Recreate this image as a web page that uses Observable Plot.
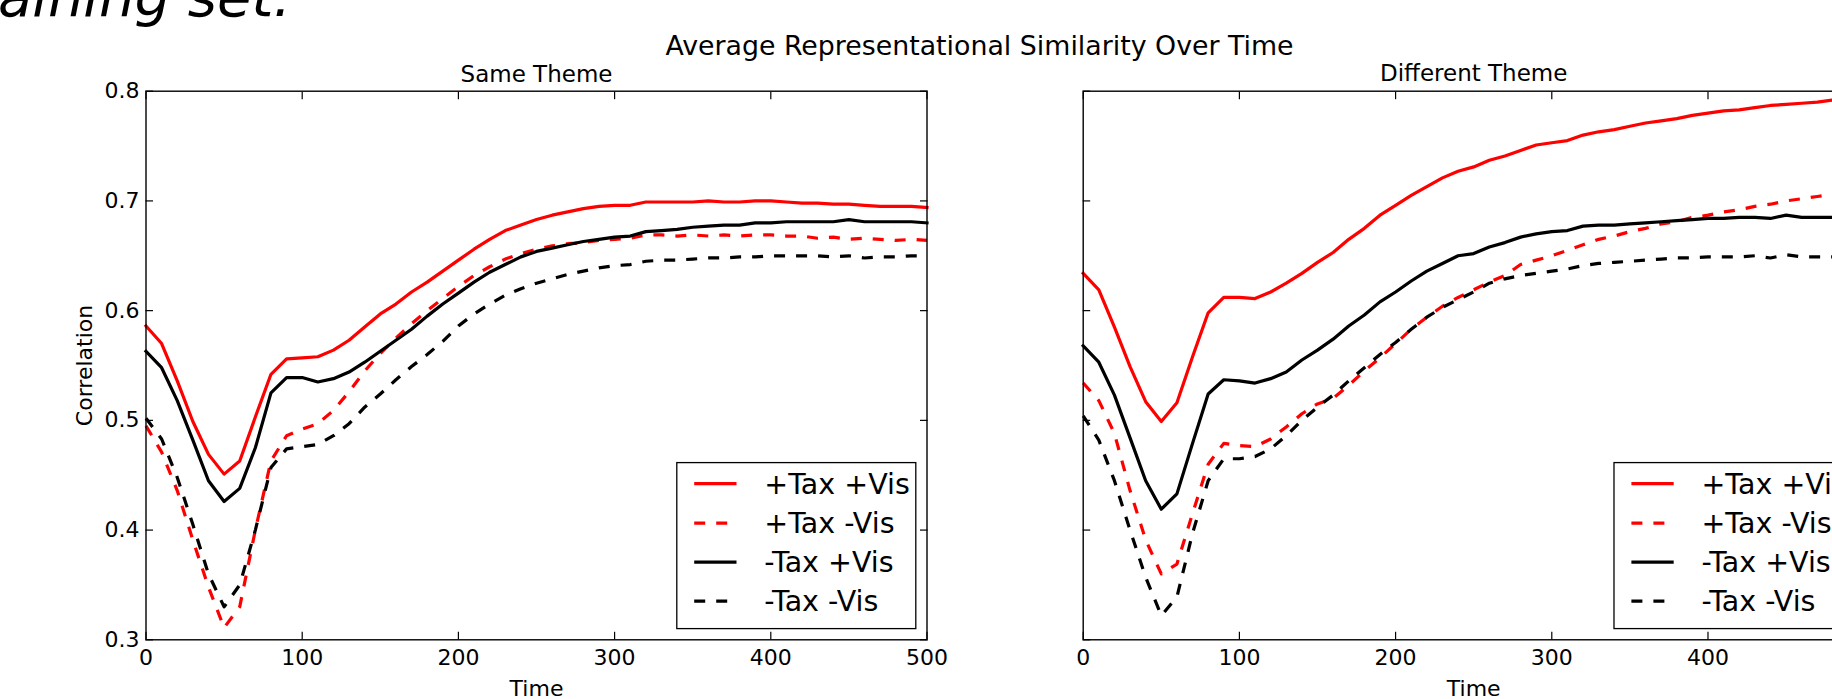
<!DOCTYPE html>
<html>
<head>
<meta charset="utf-8">
<script src="https://cdn.jsdelivr.net/npm/d3@7"></script>
<script src="https://cdn.jsdelivr.net/npm/@observablehq/plot@0.6"></script>
<style>
  html, body { margin: 0; padding: 0; width: 1832px; height: 699px; overflow: hidden; background: #fff; }
  #page { position: relative; width: 1832px; height: 699px; overflow: hidden; font-family: "DejaVu Sans", sans-serif; color: #000; }
  .abs { position: absolute; white-space: nowrap; line-height: 1; }
  #doc { left: -2px; top: -31.5px; font-size: 56px; font-style: italic; }
  #suptitle { left: 0; width: 1959px; text-align: center; top: 33.3px; font-size: 26.8px; }
  .panel { position: absolute; top: 0; }
</style>
</head>
<body>
<div id="page">
  <div id="doc" class="abs"></div>
  <div id="suptitle" class="abs"></div>
  <div id="left" class="panel" style="left:0px"></div>
  <div id="right" class="panel" style="left:1000px"></div>
</div>
<script>
// ---------------- data ----------------
const docText = "aining set.";
const suptitle = "Average Representational Similarity Over Time";
const panelTitles = ["Same Theme", "Different Theme"];
const xLabel = "Time";
const yLabel = "Correlation";
const xTicks = [0, 100, 200, 300, 400, 500];
const yTicks = [0.3, 0.4, 0.5, 0.6, 0.7, 0.8];
const seriesNames = ["+Tax +Vis", "+Tax -Vis", "-Tax +Vis", "-Tax -Vis"];
const seriesColors = ["#ff0000", "#ff0000", "#000000", "#000000"];
const seriesDashed = [false, true, false, true];

const times = [0, 10, 20, 30, 40, 50, 60, 70, 80, 90,
  100, 110, 120, 130, 140, 150, 160, 170, 180, 190,
  200, 210, 220, 230, 240, 250, 260, 270, 280, 290,
  300, 310, 320, 330, 340, 350, 360, 370, 380, 390,
  400, 410, 420, 430, 440, 450, 460, 470, 480, 490, 500];

// Same Theme
const sameTaxVis = [0.586, 0.570, 0.536, 0.499, 0.469, 0.451, 0.463, 0.503, 0.542, 0.556,
  0.557, 0.558, 0.564, 0.573, 0.585, 0.597, 0.606, 0.617, 0.626, 0.636,
  0.646, 0.656, 0.665, 0.673, 0.678, 0.683, 0.687, 0.690, 0.693, 0.695,
  0.696, 0.696, 0.699, 0.699, 0.699, 0.699, 0.700, 0.699, 0.699, 0.700,
  0.700, 0.699, 0.698, 0.698, 0.697, 0.697, 0.696, 0.695, 0.695, 0.695, 0.694];
const sameTaxNoVis = [0.495, 0.471, 0.436, 0.391, 0.348, 0.311, 0.330, 0.400, 0.463, 0.486,
  0.492, 0.497, 0.509, 0.526, 0.545, 0.561, 0.575, 0.588, 0.600, 0.611,
  0.622, 0.632, 0.640, 0.647, 0.652, 0.656, 0.659, 0.661, 0.662, 0.664,
  0.665, 0.666, 0.669, 0.669, 0.668, 0.669, 0.668, 0.669, 0.668, 0.669,
  0.669, 0.668, 0.668, 0.666, 0.667, 0.665, 0.666, 0.665, 0.664, 0.665, 0.664];
const sameNoTaxVis = [0.563, 0.548, 0.518, 0.482, 0.445, 0.426, 0.438, 0.475, 0.525, 0.539,
  0.539, 0.535, 0.538, 0.544, 0.553, 0.563, 0.573, 0.583, 0.595, 0.606,
  0.616, 0.626, 0.635, 0.642, 0.649, 0.654, 0.657, 0.660, 0.663, 0.665,
  0.667, 0.668, 0.672, 0.673, 0.674, 0.676, 0.677, 0.678, 0.678, 0.680,
  0.680, 0.681, 0.681, 0.681, 0.681, 0.683, 0.681, 0.681, 0.681, 0.681, 0.680];
const sameNoTaxNoVis = [0.502, 0.483, 0.448, 0.405, 0.360, 0.330, 0.350, 0.400, 0.457, 0.474,
  0.476, 0.478, 0.486, 0.497, 0.512, 0.524, 0.537, 0.549, 0.560, 0.572,
  0.586, 0.597, 0.606, 0.614, 0.620, 0.625, 0.629, 0.633, 0.636, 0.639,
  0.641, 0.642, 0.645, 0.646, 0.646, 0.647, 0.648, 0.648, 0.649, 0.649,
  0.650, 0.650, 0.650, 0.650, 0.649, 0.650, 0.648, 0.649, 0.649, 0.650, 0.650];

// Different Theme
const diffTaxVis = [0.634, 0.619, 0.585, 0.549, 0.517, 0.499, 0.516, 0.558, 0.598, 0.612,
  0.612, 0.611, 0.617, 0.625, 0.634, 0.644, 0.653, 0.665, 0.675, 0.687,
  0.696, 0.705, 0.713, 0.721, 0.727, 0.731, 0.737, 0.741, 0.746, 0.751,
  0.753, 0.755, 0.760, 0.763, 0.765, 0.768, 0.771, 0.773, 0.775, 0.778,
  0.780, 0.782, 0.783, 0.785, 0.787, 0.788, 0.789, 0.790, 0.792, 0.793, 0.794];
const diffTaxNoVis = [0.534, 0.518, 0.488, 0.436, 0.391, 0.360, 0.369, 0.415, 0.460, 0.479,
  0.477, 0.476, 0.483, 0.494, 0.506, 0.515, 0.520, 0.532, 0.545, 0.557,
  0.570, 0.583, 0.594, 0.604, 0.612, 0.619, 0.626, 0.632, 0.642, 0.646,
  0.650, 0.655, 0.660, 0.665, 0.668, 0.672, 0.675, 0.679, 0.681, 0.685,
  0.687, 0.690, 0.692, 0.695, 0.697, 0.700, 0.702, 0.704, 0.706, 0.708, 0.710];
const diffNoTaxVis = [0.568, 0.553, 0.523, 0.484, 0.445, 0.419, 0.433, 0.479, 0.524, 0.537,
  0.536, 0.534, 0.538, 0.544, 0.555, 0.564, 0.574, 0.586, 0.596, 0.608,
  0.617, 0.627, 0.636, 0.643, 0.650, 0.652, 0.658, 0.662, 0.667, 0.670,
  0.672, 0.673, 0.677, 0.678, 0.678, 0.679, 0.680, 0.681, 0.682, 0.683,
  0.684, 0.684, 0.685, 0.685, 0.684, 0.687, 0.685, 0.685, 0.685, 0.685, 0.685];
const diffNoTaxNoVis = [0.504, 0.482, 0.445, 0.400, 0.357, 0.322, 0.339, 0.397, 0.445, 0.465,
  0.465, 0.467, 0.474, 0.486, 0.500, 0.512, 0.523, 0.536, 0.548, 0.560,
  0.571, 0.583, 0.594, 0.603, 0.610, 0.617, 0.625, 0.629, 0.632, 0.634,
  0.636, 0.638, 0.641, 0.643, 0.644, 0.645, 0.646, 0.647, 0.648, 0.648,
  0.649, 0.649, 0.649, 0.650, 0.648, 0.651, 0.649, 0.649, 0.649, 0.649, 0.649];

const panels = [
  {title: panelTitles[0], values: [sameTaxVis, sameTaxNoVis, sameNoTaxVis, sameNoTaxNoVis], yLabels: true},
  {title: panelTitles[1], values: [diffTaxVis, diffTaxNoVis, diffNoTaxVis, diffNoTaxNoVis], yLabels: false}
];

// ---------------- layout / style ----------------
const TICK_FONT = 22, LABEL_FONT = 22, TITLE_FONT = 23, LEGEND_FONT = 28.5;
const LINE_W = 3.2, DASH = "11,11";
const frameW = 781, marginTop = 90.7, marginBottom = 59.7, H = 699;

document.getElementById("doc").textContent = docText;
document.getElementById("suptitle").textContent = suptitle;

function makePanel(panel, marginLeft, marginRight) {
  const marks = [];
  panel.values.forEach((vals, k) => {
    const rows = times.map((t, i) => ({time: t, value: vals[i]}));
    marks.push(Plot.line(rows, {
      x: "time", y: "value",
      stroke: seriesColors[k], strokeWidth: LINE_W,
      strokeDasharray: seriesDashed[k] ? DASH : null,
      strokeLinecap: seriesDashed[k] ? "butt" : "square",
      strokeLinejoin: "round"
    }));
  });
  marks.push(Plot.frame({stroke: "#000", strokeWidth: 1.4}));
  // inward ticks on all four sides
  marks.push(Plot.axisX(xTicks, {anchor: "bottom", tickSize: -7.5, fill: "none", label: null, strokeWidth: 1.2}));
  marks.push(Plot.axisX(xTicks, {anchor: "top", tickSize: -7.5, fill: "none", label: null, strokeWidth: 1.2}));
  marks.push(Plot.axisY(yTicks, {anchor: "left", tickSize: -7.5, fill: "none", label: null, strokeWidth: 1.2}));
  marks.push(Plot.axisY(yTicks, {anchor: "right", tickSize: -7.5, fill: "none", label: null, strokeWidth: 1.2}));
  // tick labels
  marks.push(Plot.axisX(xTicks, {anchor: "bottom", tickSize: 0, tickPadding: 10, tickFormat: "d", label: null, fontSize: TICK_FONT}));
  if (panel.yLabels) {
    marks.push(Plot.axisY(yTicks, {anchor: "left", tickSize: 0, tickPadding: 6.5, tickFormat: ".1f", label: null, fontSize: TICK_FONT}));
    marks.push(Plot.text([yLabel], {text: d => d, frameAnchor: "left", rotate: -90, dx: -(marginLeft - 91.7), lineAnchor: "bottom", textAnchor: "middle", fontSize: LABEL_FONT}));
  }
  marks.push(Plot.text([panel.title], {text: d => d, frameAnchor: "top", dy: -9.7, lineAnchor: "bottom", fontSize: TITLE_FONT}));
  marks.push(Plot.text([xLabel], {text: d => d, frameAnchor: "bottom", dy: 56.5, lineAnchor: "bottom", fontSize: LABEL_FONT}));

  const plot = Plot.plot({
    width: marginLeft + frameW + marginRight,
    height: H,
    marginLeft, marginRight, marginTop, marginBottom,
    x: {domain: [0, 500]},
    y: {domain: [0.3, 0.8]},
    style: {fontFamily: "DejaVu Sans, sans-serif", fontSize: TICK_FONT + "px", color: "#000", background: "transparent", overflow: "visible", maxWidth: "none"},
    marks
  });
  drawLegend(plot);
  return plot;
}

function drawLegend(plot) {
  const xr = plot.scale("x").range, yr = plot.scale("y").range;
  const pad = 10.7, legendW = 239, legendH = 166;
  const rowOffsets = [21, 60.5, 99.5, 138.5];
  const right = Math.max(...xr) - pad, bottom = Math.max(...yr) - pad;
  const left = right - legendW, top = bottom - legendH;
  const g = d3.select(plot).append("g").attr("class", "legend");
  g.append("rect").attr("x", left).attr("y", top).attr("width", legendW).attr("height", legendH)
    .attr("fill", "#fff").attr("stroke", "#000").attr("stroke-width", 1.3);
  seriesNames.forEach((name, i) => {
    const y = top + rowOffsets[i];
    g.append("line").attr("x1", left + 17.4).attr("x2", left + 59.7).attr("y1", y).attr("y2", y)
      .attr("stroke", seriesColors[i]).attr("stroke-width", LINE_W)
      .attr("stroke-dasharray", seriesDashed[i] ? DASH : null)
      .attr("stroke-linecap", "butt");
    g.append("text").attr("x", left + 87.5).attr("y", y + 10.3)
      .attr("text-anchor", "start")
      .attr("font-size", LEGEND_FONT).attr("fill", "#000").text(name);
  });
}

document.getElementById("left").append(makePanel(panels[0], 145.5, 19.5));
document.getElementById("right").append(makePanel(panels[1], 82.7, 20));
</script>
</body>
</html>
